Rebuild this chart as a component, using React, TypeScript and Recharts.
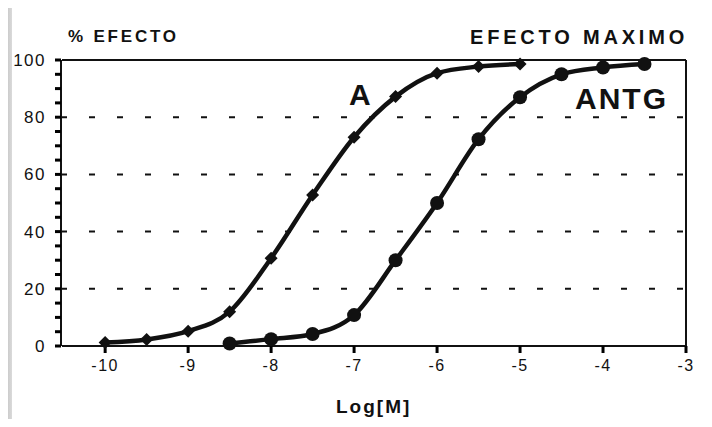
import { LineChart, Line, XAxis, YAxis, CartesianGrid, ReferenceLine } from "recharts";

// log concentration (x) vs % effect (y)
const A_LOGM = [-10, -9.5, -9, -8.5, -8, -7.5, -7, -6.5, -6, -5.5, -5];
const A_EFFECT = [1.2, 2.3, 5.2, 12, 30.7, 52.8, 73, 87.2, 95.4, 97.7, 98.6];

const ANTG_LOGM = [-8.5, -8, -7.5, -7, -6.5, -6, -5.5, -5, -4.5, -4, -3.5];
const ANTG_EFFECT = [0.9, 2.4, 4.2, 10.8, 30, 50, 72.3, 87, 95, 97.4, 98.6];

const X_TICKS = [-10, -9, -8, -7, -6, -5, -4, -3];
const Y_TICKS = [0, 20, 40, 60, 80, 100];
const Y_MINOR_TICKS = [0, 5, 10, 15, 20, 25, 30, 35, 40, 45, 50, 55, 60, 65, 70, 75, 80, 85, 90, 95, 100];
const GRID_LEVELS = [20, 40, 60, 80];

const aData = A_LOGM.map((x, i) => ({ x, y: A_EFFECT[i] }));
const antgData = ANTG_LOGM.map((x, i) => ({ x, y: ANTG_EFFECT[i] }));

const FONT = '"Liberation Sans", Arial, sans-serif';
const INK = "#111111";

function Diamond(props: any) {
  const { cx, cy } = props;
  if (cx == null || cy == null) return null;
  const s = 6.5;
  return <polygon points={`${cx},${cy - s} ${cx + s},${cy} ${cx},${cy + s} ${cx - s},${cy}`} fill={INK} />;
}

function Circle(props: any) {
  const { cx, cy } = props;
  if (cx == null || cy == null) return null;
  return <circle cx={cx} cy={cy} r={7} fill={INK} />;
}

const tickText = { fontFamily: FONT, fontSize: 17, fill: INK, letterSpacing: 1.5 };
const bold = { fontFamily: FONT, fontWeight: 700, color: INK, position: "absolute" as const, whiteSpace: "nowrap" as const };

export default function App() {
  return (
    <div style={{ margin: -8, width: 712, height: 427, position: "relative", background: "#fff", overflow: "hidden" }}>
      <div style={{ position: "absolute", left: 0, top: 0, width: 712, height: 8, background: "linear-gradient(to bottom, #b0b0b0, #d6d6d6)" }} />
      <div style={{ position: "absolute", left: 0, top: 0, width: 12, height: 427, background: "linear-gradient(to right, #b0b0b0, #dadada)" }} />

      <div style={{ position: "absolute", left: 0, top: 0 }}>
        <LineChart width={712} height={427} margin={{ top: 60, right: 26, bottom: 41, left: 11 }}>
          <CartesianGrid
            horizontal
            vertical={false}
            horizontalValues={GRID_LEVELS}
            yAxisId="main"
            stroke={INK}
            strokeWidth={2}
            strokeDasharray="6 22"
            strokeDashoffset={1}
          />
          <XAxis
            type="number"
            dataKey="x"
            domain={[-10.52, -3]}
            allowDataOverflow
            ticks={X_TICKS}
            interval={0}
            tick={{ ...tickText, fontSize: 16 }}
            tickLine={{ stroke: "#000", strokeWidth: 3 }}
            tickSize={7}
            tickMargin={7}
            height={40}
            axisLine={{ stroke: INK, strokeWidth: 2 }}
          />
          <YAxis
            yAxisId="a"
            type="number"
            domain={[0, 100]}
            ticks={Y_TICKS}
            interval={0}
            tick={false}
            tickLine={{ stroke: "#000", strokeWidth: 3 }}
            tickSize={11}
            width={1}
            axisLine={false}
          />
          <YAxis
            yAxisId="main"
            type="number"
            domain={[0, 100]}
            ticks={Y_MINOR_TICKS}
            interval={0}
            tick={tickText}
            tickFormatter={(v: number) => (v % 20 === 0 ? String(v) : "")}
            tickLine={{ stroke: "#000", strokeWidth: 3 }}
            tickSize={6}
            tickMargin={9}
            width={50}
            axisLine={{ stroke: INK, strokeWidth: 2 }}
          />
          <ReferenceLine yAxisId="main" y={100} stroke={INK} strokeWidth={2} />
          <ReferenceLine yAxisId="main" x={-3} stroke={INK} strokeWidth={2} />
          <Line
            yAxisId="main"
            data={aData}
            dataKey="y"
            type="monotone"
            stroke={INK}
            strokeWidth={4.5}
            dot={<Diamond />}
            activeDot={false}
            isAnimationActive={false}
          />
          <Line
            yAxisId="main"
            data={antgData}
            dataKey="y"
            type="monotone"
            stroke={INK}
            strokeWidth={4.5}
            dot={<Circle />}
            activeDot={false}
            isAnimationActive={false}
          />
        </LineChart>
      </div>

      <div style={{ ...bold, left: 68, top: 27, fontSize: 17, letterSpacing: 2.8 }}>% EFECTO</div>
      <div style={{ ...bold, right: 24, top: 26, fontSize: 20, letterSpacing: 3.8 }}>EFECTO MAXIMO</div>
      <div style={{ ...bold, left: 349, top: 78, fontSize: 30 }}>A</div>
      <div style={{ ...bold, left: 575, top: 82, fontSize: 30, letterSpacing: 2 }}>ANTG</div>
      <div style={{ ...bold, left: 336, top: 396, fontSize: 19, letterSpacing: 2 }}>Log[M]</div>
    </div>
  );
}
